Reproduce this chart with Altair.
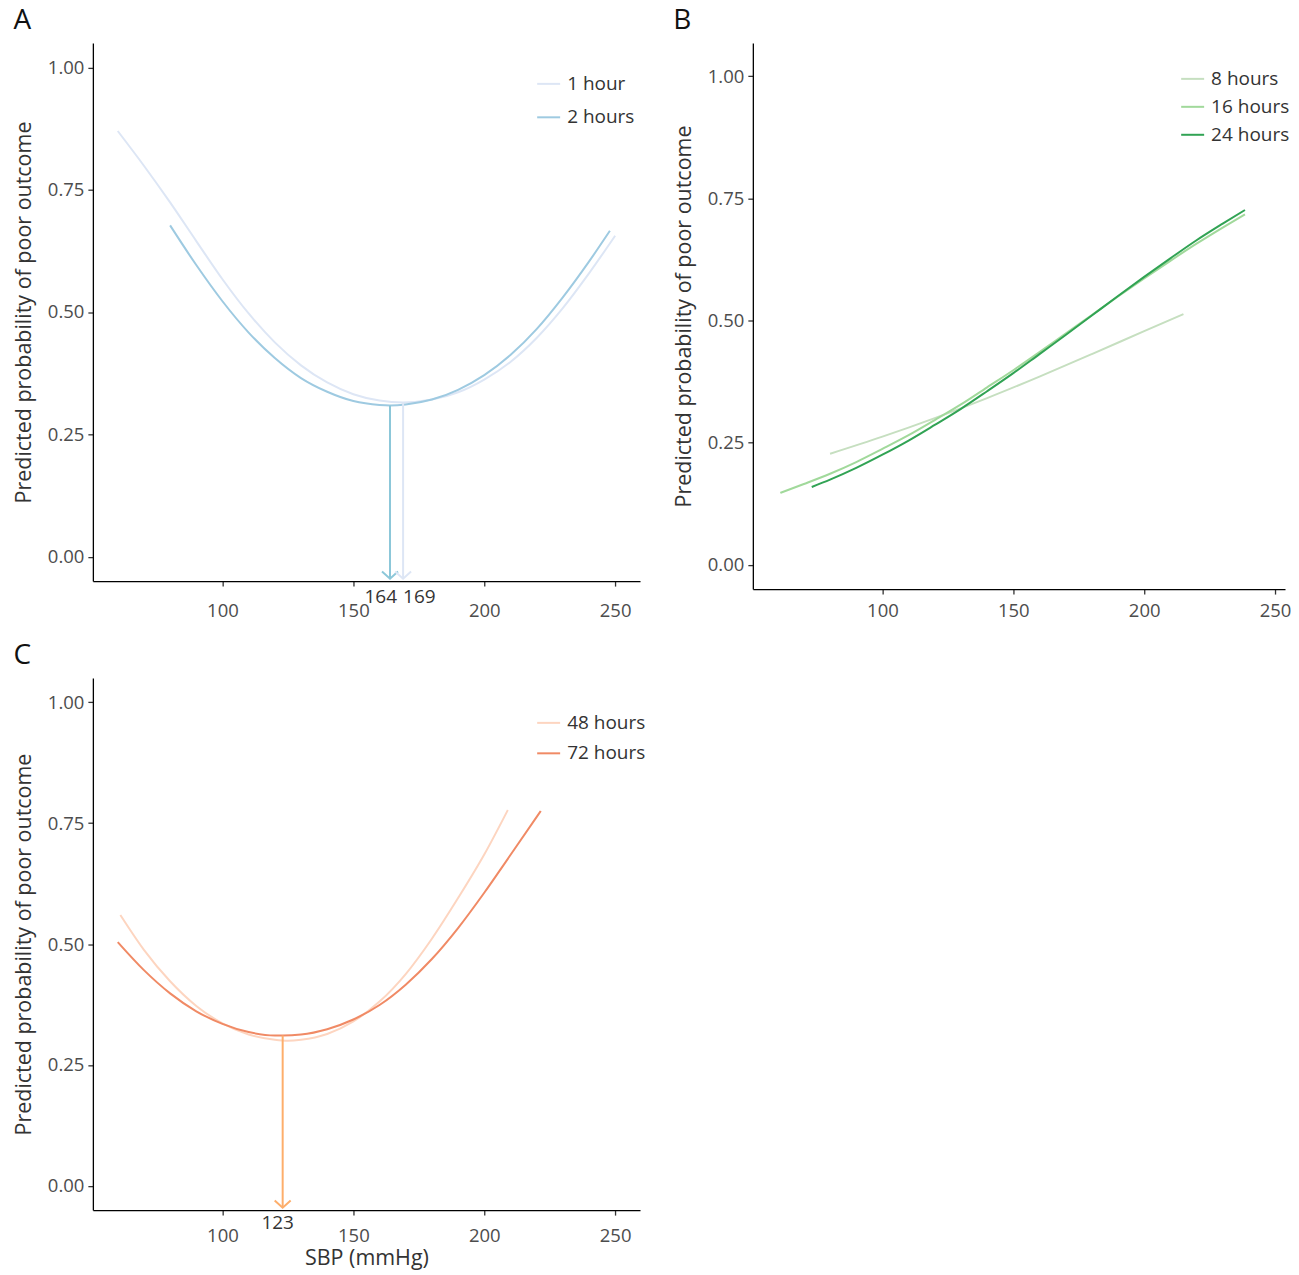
import altair as alt
import pandas as pd

FONT = "Open Sans"

# ---------------- Panel A data ----------------
a_1h_sbp = [60, 70, 80, 90, 100, 110, 120, 130, 140, 150, 160, 169, 180, 190, 200, 210, 220, 230, 240, 250]
a_1h_prob = [0.870, 0.799, 0.724, 0.645, 0.567, 0.497, 0.438, 0.391, 0.356, 0.332, 0.319, 0.315,
             0.321, 0.336, 0.362, 0.398, 0.447, 0.508, 0.579, 0.656]
a_2h_sbp = [80, 90, 100, 110, 120, 130, 140, 150, 160, 164, 170, 180, 190, 200, 210, 220, 230, 240, 248]
a_2h_prob = [0.677, 0.596, 0.522, 0.458, 0.406, 0.365, 0.337, 0.318, 0.310, 0.309, 0.311, 0.321,
             0.341, 0.371, 0.412, 0.465, 0.530, 0.603, 0.666]
a_series = ["1 hour", "2 hours"]
a_colors = ["#dde6f5", "#9ecae1"]
a_opt_sbp = [164, 169]
a_opt_prob = [0.309, 0.315]
a_opt_colors = ["#8cc7d9", "#dde6f5"]
a_opt_align = ["right", "left"]

# ---------------- Panel B data ----------------
b_8h_sbp = [80, 100, 120, 140, 160, 180, 200, 215]
b_8h_prob = [0.227, 0.262, 0.300, 0.341, 0.385, 0.431, 0.478, 0.513]
b_16h_sbp = [61, 70, 80, 90, 100, 110, 120, 130, 140, 150, 160, 170, 180, 190, 200, 210, 220, 230, 238.5]
b_16h_prob = [0.147, 0.165, 0.186, 0.210, 0.237, 0.265, 0.296, 0.328, 0.363, 0.398, 0.435, 0.473,
              0.511, 0.549, 0.586, 0.622, 0.657, 0.690, 0.717]
b_24h_sbp = [73, 80, 90, 100, 110, 120, 130, 140, 150, 160, 170, 180, 190, 200, 210, 220, 230, 238.5]
b_24h_prob = [0.159, 0.174, 0.198, 0.225, 0.254, 0.286, 0.319, 0.355, 0.392, 0.431, 0.470, 0.510,
              0.550, 0.589, 0.627, 0.664, 0.698, 0.726]
b_series = ["8 hours", "16 hours", "24 hours"]
b_colors = ["#c6dfc0", "#a1d99b", "#31a354"]

# ---------------- Panel C data ----------------
c_48h_sbp = [61, 70, 80, 90, 100, 110, 120, 125, 130, 140, 150, 160, 170, 180, 190, 200, 209]
c_48h_prob = [0.560, 0.488, 0.423, 0.372, 0.336, 0.313, 0.302, 0.300, 0.302, 0.314, 0.340, 0.381,
              0.438, 0.511, 0.595, 0.685, 0.777]
c_72h_sbp = [60, 70, 80, 90, 100, 110, 120, 123, 130, 140, 150, 160, 170, 180, 190, 200, 210, 221.6]
c_72h_prob = [0.504, 0.446, 0.398, 0.361, 0.335, 0.318, 0.311, 0.311, 0.313, 0.324, 0.344, 0.374,
              0.416, 0.469, 0.533, 0.606, 0.684, 0.775]
c_series = ["48 hours", "72 hours"]
c_colors = ["#fdd5c0", "#f08a65"]
c_opt_sbp = [123]
c_opt_prob = [0.311]
c_opt_colors = ["#fdae6b"]
c_opt_align = ["center"]

x_ticks = [100, 150, 200, 250]
y_ticks = [0.0, 0.25, 0.50, 0.75, 1.00]
X_DOMAIN = [50.5, 259.5]
X_DOMAIN_B = [50.5, 253.8]
Y_DOMAIN = [-0.05, 1.05]
Y_DOMAIN_B = [-0.05, 1.068]
ARROW_TIP = -0.045
Y_TITLE = "Predicted probability of poor outcome"
X_TITLE = "SBP (mmHg)"


def lines_df(series, xs_list, ys_list):
    rows = []
    for s, xs, ys in zip(series, xs_list, ys_list):
        for x, y in zip(xs, ys):
            rows.append({"series": s, "sbp": x, "prob": y})
    return pd.DataFrame(rows)


def arrows_df(sbp, prob, colors, aligns):
    return pd.DataFrame({
        "sbp": sbp, "prob": prob, "col": colors, "align": aligns,
        "tip": [ARROW_TIP] * len(sbp), "base": [Y_DOMAIN[0]] * len(sbp),
        "label": [str(v) for v in sbp],
    })


def panel(letter, df, series, colors, legend_xy, row_pad, arrows=None,
          x_title=None, w=548, h=539, x_domain=X_DOMAIN, y_domain=Y_DOMAIN,
          x_label_pad=15.5):
    xenc = alt.X("sbp:Q", scale=alt.Scale(domain=x_domain, nice=False, zero=False),
                 axis=alt.Axis(values=x_ticks, title=x_title if x_title else None,
                               titlePadding=3, labelPadding=x_label_pad))
    yenc = alt.Y("prob:Q", scale=alt.Scale(domain=y_domain, nice=False, zero=False),
                 axis=alt.Axis(values=y_ticks, format=".2f", title=Y_TITLE, titlePadding=12))
    lines = alt.Chart(df).mark_line(interpolate="monotone", strokeWidth=2).encode(
        x=xenc, y=yenc,
        color=alt.Color("series:N", sort=series,
                        scale=alt.Scale(domain=series, range=colors),
                        legend=alt.Legend(title=None, orient="none",
                                          legendX=legend_xy[0], legendY=legend_xy[1],
                                          symbolType="stroke", symbolSize=529,
                                          symbolStrokeWidth=2, labelFontSize=19,
                                          labelFont=FONT, labelColor="#333333",
                                          rowPadding=row_pad, labelOffset=6)),
        order=alt.Order("sbp:Q"),
    )
    layers = [lines]
    if arrows is not None:
        rule = alt.Chart(arrows).mark_rule(strokeWidth=2).encode(
            x="sbp:Q", y="prob:Q", y2="tip:Q",
            color=alt.Color("col:N", scale=None))
        head = alt.Chart(arrows).mark_point(
            shape="M-1,-0.9L0,0L1,-0.9", filled=False, size=256, strokeWidth=2, opacity=1
        ).encode(x="sbp:Q", y="tip:Q", color=alt.Color("col:N", scale=None))
        layers += [rule, head]
        for al, dx in [("right", 7), ("left", 0), ("center", -5)]:
            sub = arrows[arrows["align"] == al]
            if len(sub):
                layers.append(
                    alt.Chart(sub).mark_text(align=al, baseline="top", dx=dx,
                                             dy=6.5 if al != "center" else 3.5,
                                             fontSize=19, font=FONT, color="#333333").encode(
                        x="sbp:Q", y="base:Q", text="label:N"))
    return alt.layer(*layers).properties(
        width=w, height=h,
        title=alt.TitleParams(letter, anchor="start", frame="bounds", fontSize=28,
                              fontWeight="normal", font=FONT, color="#111111",
                              offset=8),
    )


dfA = lines_df(a_series, [a_1h_sbp, a_2h_sbp], [a_1h_prob, a_2h_prob])
dfB = lines_df(b_series, [b_8h_sbp, b_16h_sbp, b_24h_sbp], [b_8h_prob, b_16h_prob, b_24h_prob])
dfC = lines_df(c_series, [c_48h_sbp, c_72h_sbp], [c_48h_prob, c_72h_prob])

pA = panel("A", dfA, a_series, a_colors, (444, 28.5), 10.5,
           arrows=arrows_df(a_opt_sbp, a_opt_prob, a_opt_colors, a_opt_align))
pB = panel("B", dfB, b_series, b_colors, (428, 23.5), 5, w=533, h=547,
           x_domain=X_DOMAIN_B, y_domain=Y_DOMAIN_B, x_label_pad=7)
pC = panel("C", dfC, c_series, c_colors, (444, 32.5), 7.5,
           arrows=arrows_df(c_opt_sbp, c_opt_prob, c_opt_colors, c_opt_align),
           x_title=X_TITLE, h=533, x_label_pad=11)

top = alt.hconcat(pA, pB, spacing=33).resolve_scale(color="independent")
chart = alt.vconcat(top, pC, spacing=22).resolve_scale(color="independent").properties(
    padding={"top": -2, "left": 5, "right": 0, "bottom": 0}
).configure_view(
    stroke=None
).configure_axis(
    grid=False, domainColor="#000000", domainWidth=1.3, tickColor="#333333", tickWidth=1.3,
    tickSize=5, labelColor="#4d4d4d", labelFontSize=18.5, labelFont=FONT, labelPadding=4,
    titleFont=FONT, titleFontSize=21.5, titleColor="#333333", titleFontWeight="normal",
)

chart.save("out.html", embed_options={"renderer": "svg", "actions": False})
